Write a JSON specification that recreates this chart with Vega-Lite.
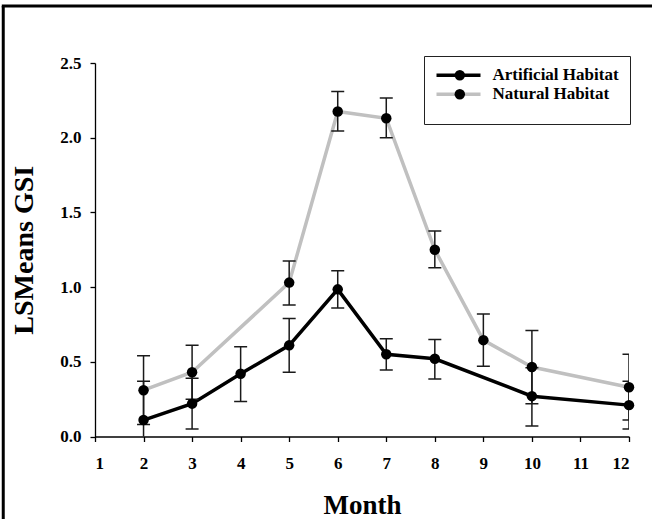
{
  "$schema": "https://vega.github.io/schema/vega-lite/v6.json",
  "width": 534,
  "height": 373.5,
  "autosize": {"type": "none"},
  "padding": {"left": 95, "top": 63, "right": 23, "bottom": 82.5},
  "background": "white",
  "config": {
    "view": {"stroke": null},
    "font": "Liberation Serif",
    "axis": {
      "labelFont": "Liberation Serif", "labelFontWeight": "bold", "labelFontSize": 17, "labelColor": "black",
      "titleFont": "Liberation Serif", "titleFontWeight": "bold", "titleColor": "black",
      "domainColor": "black", "domainWidth": 1.3, "tickColor": "black", "tickWidth": 1.3, "tickSize": 5, "grid": false
    }
  },
  "data": {"values": [
    {"month": 2, "series": "Artificial Habitat", "gsi": 0.11, "lower": -0.15, "upper": 0.37},
    {"month": 3, "series": "Artificial Habitat", "gsi": 0.22, "lower": 0.05, "upper": 0.39},
    {"month": 4, "series": "Artificial Habitat", "gsi": 0.42, "lower": 0.235, "upper": 0.6},
    {"month": 5, "series": "Artificial Habitat", "gsi": 0.61, "lower": 0.43, "upper": 0.79},
    {"month": 6, "series": "Artificial Habitat", "gsi": 0.985, "lower": 0.86, "upper": 1.11},
    {"month": 7, "series": "Artificial Habitat", "gsi": 0.55, "lower": 0.445, "upper": 0.655},
    {"month": 8, "series": "Artificial Habitat", "gsi": 0.52, "lower": 0.385, "upper": 0.65},
    {"month": 10, "series": "Artificial Habitat", "gsi": 0.27, "lower": 0.07, "upper": 0.46},
    {"month": 12, "series": "Artificial Habitat", "gsi": 0.21, "lower": 0.05, "upper": 0.37},
    {"month": 2, "series": "Natural Habitat", "gsi": 0.31, "lower": 0.08, "upper": 0.54},
    {"month": 3, "series": "Natural Habitat", "gsi": 0.43, "lower": 0.25, "upper": 0.61},
    {"month": 5, "series": "Natural Habitat", "gsi": 1.03, "lower": 0.88, "upper": 1.175},
    {"month": 6, "series": "Natural Habitat", "gsi": 2.175, "lower": 2.045, "upper": 2.31},
    {"month": 7, "series": "Natural Habitat", "gsi": 2.13, "lower": 2.0, "upper": 2.265},
    {"month": 8, "series": "Natural Habitat", "gsi": 1.25, "lower": 1.13, "upper": 1.375},
    {"month": 9, "series": "Natural Habitat", "gsi": 0.645, "lower": 0.47, "upper": 0.82},
    {"month": 10, "series": "Natural Habitat", "gsi": 0.465, "lower": 0.22, "upper": 0.71},
    {"month": 12, "series": "Natural Habitat", "gsi": 0.33, "lower": 0.11, "upper": 0.55}
  ]},
  "layer": [
    {
      "mark": {"type": "line", "strokeWidth": 3.5},
      "encoding": {
        "x": {"field": "month", "type": "quantitative", "scale": {"domain": [1, 12], "nice": false, "zero": false},
              "axis": {"title": "Month", "titleFontSize": 27, "titlePadding": 21, "values": [1,2,3,4,5,6,7,8,9,10,11,12], "labelPadding": 14, "format": "d"}},
        "y": {"field": "gsi", "type": "quantitative", "scale": {"domain": [0, 2.5], "nice": false},
              "axis": {"title": "LSMeans GSI", "titleFontSize": 28, "titlePadding": 21, "values": [0, 0.5, 1, 1.5, 2, 2.5], "format": ".1f", "labelPadding": 9}},
        "color": {"field": "series", "type": "nominal",
                  "scale": {"domain": ["Artificial Habitat", "Natural Habitat"], "range": ["#000000", "#c0c0c0"]},
                  "legend": {"orient": "none", "legendX": 329, "legendY": -7, "title": " ", "titleOrient": "bottom", "titleFontSize": 10, "titlePadding": 0,
                             "symbolType": "stroke", "symbolSize": 1936, "symbolStrokeWidth": 3.5, "clipHeight": 17.5,
                             "labelFont": "Liberation Serif", "labelFontWeight": "bold", "labelFontSize": 17, "labelColor": "black",
                             "labelOffset": 10, "labelLimit": 300, "padding": 10.5, "rowPadding": 0,
                             "strokeColor": "#222222"}}
      }
    },
    {
      "mark": {"type": "rule", "color": "#1a1a1a", "strokeWidth": 1.5, "clip": true},
      "encoding": {
        "x": {"field": "month", "type": "quantitative"},
        "y": {"field": "lower", "type": "quantitative"},
        "y2": {"field": "upper"}
      }
    },
    {
      "mark": {"type": "tick", "orient": "horizontal", "size": 13, "thickness": 1.5, "color": "#1a1a1a", "opacity": 1, "clip": true},
      "encoding": {
        "x": {"field": "month", "type": "quantitative"},
        "y": {"field": "lower", "type": "quantitative"}
      }
    },
    {
      "mark": {"type": "tick", "orient": "horizontal", "size": 13, "thickness": 1.5, "color": "#1a1a1a", "opacity": 1, "clip": true},
      "encoding": {
        "x": {"field": "month", "type": "quantitative"},
        "y": {"field": "upper", "type": "quantitative"}
      }
    },
    {
      "mark": {"type": "point", "filled": true, "size": 110, "color": "black", "opacity": 1},
      "encoding": {
        "x": {"field": "month", "type": "quantitative"},
        "y": {"field": "gsi", "type": "quantitative"},
        "shape": {"field": "series", "type": "nominal",
                  "scale": {"range": ["circle", "circle"]},
                  "legend": {"orient": "none", "legendX": 345.8, "legendY": -7, "title": null,
                             "symbolSize": 110, "symbolFillColor": "black", "symbolStrokeWidth": 0, "symbolOpacity": 1, "clipHeight": 17.5,
                             "labelFont": "Liberation Serif", "labelFontWeight": "bold", "labelFontSize": 17,
                             "labelExpr": "''", "labelLimit": 300, "padding": 10.5, "rowPadding": 0}}
      }
    },
    {
      "data": {"values": [{}]},
      "mark": {"type": "rule", "color": "black", "strokeWidth": 3},
      "encoding": {
        "x": {"datum": -0.89, "type": "quantitative"},
        "y": {"datum": 2.881, "type": "quantitative"},
        "y2": {"datum": -1}
      }
    },
    {
      "data": {"values": [{}]},
      "mark": {"type": "rule", "color": "black", "strokeWidth": 3},
      "encoding": {
        "x": {"datum": -0.92, "type": "quantitative"},
        "x2": {"datum": 14},
        "y": {"datum": 2.881, "type": "quantitative"}
      }
    }
  ]
}
